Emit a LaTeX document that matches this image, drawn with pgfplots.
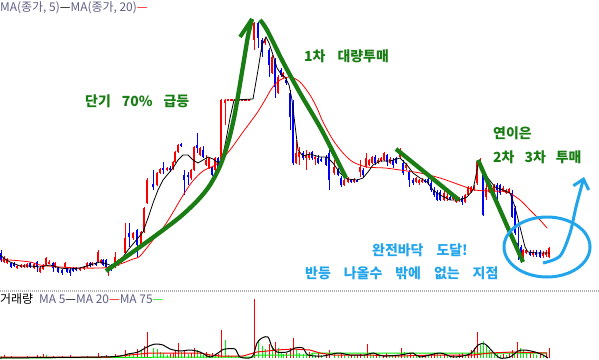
\documentclass[border=0pt]{standalone}
\usepackage{pgfplots}
\pgfplotsset{compat=1.18}
\usepackage{pgfplotstable}
\usepackage{fontspec}
\setmainfont{Noto Sans CJK KR}
\usetikzlibrary{arrows.meta}
\definecolor{cup}{RGB}{250,0,0}
\definecolor{cdn}{RGB}{0,0,245}
\definecolor{tg}{RGB}{25,125,20}
\definecolor{sky}{RGB}{35,165,235}
\definecolor{lg}{RGB}{95,95,135}
\definecolor{vg}{RGB}{0,235,0}

% candles in pixel coordinates: x, body top, body bottom, wick top, wick bottom
\pgfplotstableread{
x t b h l
4 258 262 256 263
7 259 263 258 264
17 266 268 265 269
21 265 267 264 268
24 265 267 264 268
27 264 267 263 268
34 264 268 263 269
40 268 272 266 273
43 265 269 264 270
46 258 265 257 266
49 262 263.5 260 264
55 263 267 262 268
65 263 267 262 268
80 268 270 267 271
84 267 269 266 270
87 263 267 262 268
92 263 265 262 266
98 252 262 250 263
101 260 263 259 264
108 267 272 266 276
115 257 267 252 268
118 260 265 259 266
121 258 263 257 264
125 238 253 223 254
133 233 238 232 240
141 232 245 231 246
144 208 232 207 233
147 180 203 178 204
157 173 185 172 186
160 169 173 168 174
167 168 170 167 171
173 162 169 161 170
175 152 162 151 163
178 145 152 144 153
191 170 178 169 180
194 147 170 146 171
200 148 155 147 156
206 160 165 155 166
209 158 168 157 169
215 158 170 157 171
221 100 165 99 166
225 100 103 99 125
228 99 100.3 99 100.3
231.5 99 100.3 99 100.3
235 99 100.3 99 100.3
238.5 99 100.3 99 100.3
242 99 100.3 99 100.3
245.5 99 100.3 99 100.3
249 99 100.3 99 100.3
254 23 40 22 50
265 40 43 38 45
272 57 73 55 74
278 77 93 75 94
283 73 77 72 78
296 153 163 140 164
299 152 157 147 165
306 155 158 150 170
309 155 158 152 160
315 157 159 156 165
334 167 173 160 175
344 180 185 179 186
348 178 182 177 183
354 180 182 178 183
360 167 172 160 177
366 158 167 153 168
369 160 165 159 166
372 157 163 156 164
378 160 163 158 164
381 158 161 157 162
384 153 160 152 161
390 159 163 157 164
400 150 157 148 158
406 165 168 163 170
416 178 182 177 183
419 180 183 179 185
422 180 182 178 183
444 193 200 191 201
447 196 199 193 201
453 197 199 196 200
456 198 202 197 203
459 198 201 197 202
465 195 202 194 203
468 187 195 186 196
471 187 192 186 193
474 187 190 185 191
477 162 183 160 185
480 160 163 158 164
486 188 197 183 200
489 186 192 185 193
494 186 192 184 193
503 188 191 186 192
506 190 193 189 194
509 189 192 188 193
523 250 257 249 258
526 250 253 249 254
533 252 255 250 257
543 253 256 251 258
546 252 255 250 257
549 248 257 247 258
}\up

\pgfplotstableread{
x t b h l
1 253 260 250 262
11 263 267 262 268
14 263 266 262 267
30 263 267 262 268
37 262 267 261 272
53 263 268 262 272
58 268 272 267 273
62 270 273 269 275
67 268 272 267 273
70 270 273 268 276
73 268 271 267 272
76 268 270 267 271
90 263 266 262 267
96 263 265 262 266
103 260 265 259 266
106 260 267 259 268
111 265 270 264 271
129 233 237 223 247
137 230 245 229 257
153 184 187 170 190
163 168 170 162 174
170 168 170 166 172
181 144 146 143 147
184 175 180 170 195
188 175 177 172 185
197 145 148 133 153
203 150 157 146 158
212 167 175 166 176
218 158 167 157 168
258 23 38 22 48
262 40 52 38 57
269 50 65 48 77
275 60 87 58 98
281 70 75 68 77
286 80 83 78 85
290 93 117 90 130
293 103 163 100 165
303 153 158 151 160
312 152 158 151 160
318 158 163 155 164
321 159 161 157 162
326 157 165 155 166
329 153 180 150 190
338 170 175 168 176
341 178 185 176 187
351 180 182 179 183
357 180 181.5 179 182
363 170 175 168 177
375 157 163 155 165
387 155 162 154 166
393 160 165 158 168
396 158 163 157 164
403 163 173 160 175
409 172 180 170 187
413 180 183 178 185
425 180 182 179 183
428 179 183 178 185
431 183 190 180 192
434 190 195 187 197
437 192 200 190 201
440 192 200 190 201
450 197 199 195 200
462 198 202 196 205
483 172 215 170 216
491 187 190 185 191
497 185 190 183 203
500 185 193 184 195
512 193 217 190 218
515 208 233 206 235
518 243 250 227 260
521 247 253 245 263
530 252 255 250 256
536 252 255 250 257
540 252 257 250 258
}\dn

% volume bars: x, height in px above baseline (358)
\pgfplotstableread{
x v
4 3
11 2
27 2
37 3
43 4
53 2
62 2
70 3
87 2
98 5
106 3
115 4
125 8
137 9
144 12
147 26
170 4
173 5
175 8
178 15
184 8
191 5
194 10
206 6
212 5
218 4
221 28
251 2
254 59
269 14
275 16
286 5
290 10
293 20
309 6
318 5
326 4
329 8
341 5
351 3
357 3
360 4
367 14
376 4
383 3
386 5
395 3
401 10
410 5
425 3
431 4
434 5
444 4
453 3
459 4
462 5
468 5
471 8
474 10
477 26
503 4
509 5
512 8
517 16
530 5
540 4
546 5
549 10
}\vup

\pgfplotstableread{
x v
1 2
7 1
14 1
17 1
24 1
30 1
40 2
46 3
49 1
55 1
65 1
67 1
73 1
76 1
84 1
90 1
92 1
101 2
103 1
108 2
111 1
118 2
121 1
129 5
133 4
141 7
153 10
157 9
160 6
163 5
167 3
181 6
188 4
197 8
200 5
203 3
209 4
215 3
225 18
228 3
231 2
235 2
238 2
241 1
245 1
248 1
258 18
262 12
265 9
272 12
278 10
281 6
283 4
296 8
299 5
303 4
306 3
312 4
315 3
321 3
334 4
338 3
344 3
348 2
354 2
364 3
370 5
373 3
379 2
389 3
392 2
398 2
404 6
407 3
413 3
416 2
419 2
422 2
428 3
437 5
440 3
447 3
450 2
456 2
465 3
480 13
483 17
486 12
489 8
491 6
494 5
497 4
500 3
506 3
514 5
520 10
523 8
526 6
533 4
536 3
543 3
}\vdn

\begin{document}
\begin{tikzpicture}[x=1bp,y=1bp]
\useasboundingbox (0,0) rectangle (599,359);
\begin{axis}[at={(0,0)}, anchor=south west, scale only axis,
  width=599bp, height=359bp, xmin=0, xmax=599, ymin=0, ymax=359,
  y dir=reverse, hide axis]

% volume bars (segments from the baseline 358 up by v)
\addplot[draw=none, mark=none, error bars/.cd, y dir=plus, y explicit, error mark=none,
  error bar style={draw=cup, line width=1bp}]
  table[x=x, y expr=358-\thisrow{v}, y error expr=\thisrow{v}] {\vup};
\addplot[draw=none, mark=none, error bars/.cd, y dir=plus, y explicit, error mark=none,
  error bar style={draw=vg, line width=1bp}]
  table[x=x, y expr=358-\thisrow{v}, y error expr=\thisrow{v}] {\vdn};

% volume moving averages
\addplot[vg, line width=1bp] coordinates {(0,358) (200,357) (253,357) (257,355) (310,355) (313,353) (547,353)};
\addplot[cup, line width=1bp] coordinates {(0,357) (110,357) (130,355) (150,353) (175,353) (200,353) (210,355) (220,356) (243,356) (257,352) (277,350) (293,349) (310,350) (320,353) (333,355) (367,355) (400,356) (433,355) (473,355) (490,353) (513,352) (547,353)};
\addplot[black, line width=1bp, smooth] coordinates {(0,358) (100,357) (120,356) (128,354) (138,352) (147,347) (155,344) (163,345) (170,349) (180,351) (190,350) (200,352) (210,357) (218,353) (222,350) (225,349) (235,349) (240,357) (252,357) (257,343) (262,338) (268,337) (272,347) (277,352) (287,352) (295,348) (303,348) (308,355) (323,356) (338,353) (350,355) (365,355) (373,353) (383,356) (400,355) (413,353) (420,357) (440,353) (453,357) (470,354) (478,345) (485,344) (493,352) (500,358) (510,357) (518,351) (525,350) (535,352) (543,355) (548,358)};

% candles: wicks then bodies, drawn as symmetric error bars about the midpoint
\addplot[draw=none, mark=none, error bars/.cd, y dir=both, y explicit, error mark=none,
  error bar style={draw=cup, line width=1bp}]
  table[x=x, y expr=(\thisrow{h}+\thisrow{l})/2, y error expr=(\thisrow{l}-\thisrow{h})/2] {\up};
\addplot[draw=none, mark=none, error bars/.cd, y dir=both, y explicit, error mark=none,
  error bar style={draw=cup, line width=2.8bp}]
  table[x=x, y expr=(\thisrow{t}+\thisrow{b})/2, y error expr=(\thisrow{b}-\thisrow{t})/2] {\up};
\addplot[draw=none, mark=none, error bars/.cd, y dir=both, y explicit, error mark=none,
  error bar style={draw=cdn, line width=1bp}]
  table[x=x, y expr=(\thisrow{h}+\thisrow{l})/2, y error expr=(\thisrow{l}-\thisrow{h})/2] {\dn};
\addplot[draw=none, mark=none, error bars/.cd, y dir=both, y explicit, error mark=none,
  error bar style={draw=cdn, line width=2.8bp}]
  table[x=x, y expr=(\thisrow{t}+\thisrow{b})/2, y error expr=(\thisrow{b}-\thisrow{t})/2] {\dn};

% MA20 (red) and MA5 (black)
\addplot[cup, line width=0.8bp, smooth] coordinates {(0,260) (10,260) (30,262) (40,265) (60,267) (80,268) (100,268) (110,267) (123,263) (133,259) (140,256) (153,240) (163,228) (172,214) (182,197) (192,182) (203,171) (217,164) (230,150) (243,132) (257,113) (265,100) (272,88) (280,80) (290,77) (300,82) (310,95) (317,108) (323,122) (333,140) (343,153) (353,162) (367,167) (385,168) (400,170) (420,173) (440,178) (460,185) (475,190) (490,191) (507,192) (520,200) (530,210) (540,220) (547,228)};
\addplot[black, line width=0.8bp] coordinates {(0,255) (5,259) (10,262) (20,266) (30,266) (40,267) (50,265) (60,268) (70,269) (80,268) (90,265) (100,262) (107,264) (112,266) (118,263) (123,257) (128,250) (133,244) (138,238) (143,232) (148,218) (153,203) (158,190) (163,180) (168,174) (173,168) (178,160) (183,155) (188,155) (193,160) (198,163) (203,160) (208,157) (213,159) (218,163) (222,160) (226,140) (230,118) (234,100) (253,99) (258,70) (262,45) (266,37) (269,43) (273,55) (277,68) (281,74) (285,77) (289,85) (292,100) (295,125) (298,150) (303,156) (310,154) (320,157) (327,157) (333,163) (340,173) (347,179) (357,180) (363,178) (368,172) (373,165) (380,161) (390,161) (400,158) (407,165) (413,173) (420,178) (427,182) (433,190) (440,195) (450,200) (460,200) (467,197) (473,190) (478,165) (482,166) (487,177) (495,187) (503,190) (510,193) (515,207) (520,227) (525,247) (528,252) (537,253) (550,253)};

% green trend lines
\addplot[tg, line width=4.3bp, smooth] coordinates {(106,271) (130,254) (155,236) (180,217) (198,200) (210,185) (220,166) (228,143) (234,118) (239,90) (244,60) (248,36) (252,19)};
\addplot[tg, line width=4bp] coordinates {(240,37) (252,19)};
\addplot[tg, line width=4.3bp, smooth] coordinates {(260,20) (267,30) (283,62) (300,93) (320,127) (333,152) (346,178)};
\addplot[tg, line width=4.3bp] coordinates {(396,149) (459,200)};
\addplot[tg, line width=4.3bp] coordinates {(478,160) (523,262)};

% blue ellipse and arrow
\draw[sky, line width=3bp] (axis cs:547,247) ellipse [x radius=43bp, y radius=30bp];
\draw[sky, line width=3bp, -{Straight Barb[length=9bp, width=16bp]}] plot[smooth] coordinates {(axis cs:543,263) (axis cs:560,256) (axis cs:570,233) (axis cs:576,207) (axis cs:584,177)};

% separator
\draw[gray!60, line width=2bp, dash pattern=on 1bp off 1bp] (axis cs:0,290.5) -- (axis cs:599,290.5);

% legends
\node[anchor=west, inner sep=0, font=\fontsize{12}{14}\selectfont] at (axis cs:0,8)
  {\textcolor{lg}{MA(종가, 5)}—\textcolor{lg}{MA(종가, 20)}\textcolor{cup}{—}};
\node[anchor=west, inner sep=0, font=\fontsize{12}{14}\selectfont] at (axis cs:0,299)
  {거래량\hspace{6bp}\textcolor{lg}{MA 5}—\textcolor{lg}{MA 20}\textcolor{cup}{—}\textcolor{lg}{MA 75}\textcolor{vg}{—}};

% annotations
\node[anchor=west, inner sep=0, text=tg, font=\fontsize{14}{16}\selectfont\bfseries] at (axis cs:85,101) {단기\hspace{11bp}70\%\hspace{11bp}급등};
\node[anchor=west, inner sep=0, text=tg, font=\fontsize{14}{16}\selectfont\bfseries] at (axis cs:304,56) {1차\hspace{12bp}대량투매};
\node[anchor=west, inner sep=0, text=tg, font=\fontsize{14}{16}\selectfont\bfseries] at (axis cs:493,133) {연이은};
\node[anchor=west, inner sep=0, text=tg, font=\fontsize{14}{16}\selectfont\bfseries] at (axis cs:493,157) {2차\hspace{10bp}3차\hspace{10bp}투매};
\node[anchor=west, inner sep=0, text=sky, font=\fontsize{14}{16}\selectfont\bfseries] at (axis cs:372,250) {완전바닥\hspace{13bp}도달!};
\node[anchor=west, inner sep=0, text=sky, font=\fontsize{14}{16}\selectfont\bfseries] at (axis cs:305,273) {반등\hspace{13bp}나올수\hspace{13bp}밖에\hspace{13bp}없는\hspace{13bp}지점};
\end{axis}
\end{tikzpicture}
\end{document}
